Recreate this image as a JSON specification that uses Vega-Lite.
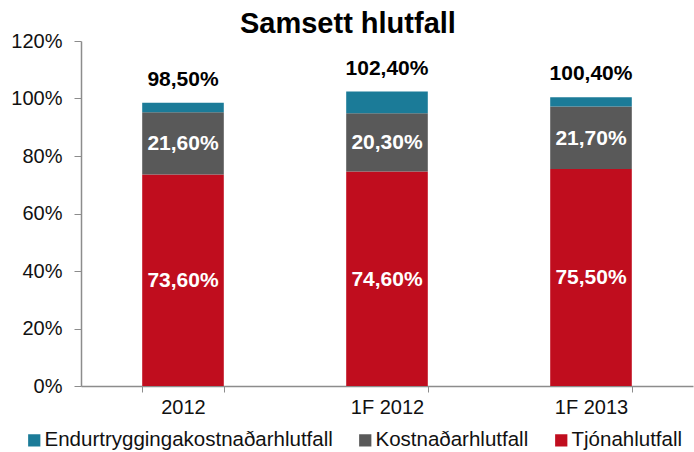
{
  "$schema": "https://vega.github.io/schema/vega-lite/v6.json",
  "width": 612,
  "height": 345,
  "autosize": {"type": "none"},
  "padding": {"left": 81, "top": 41, "right": 1, "bottom": 66},
  "config": {
    "locale": {"number": {"decimal": ",", "thousands": ".", "grouping": [3], "currency": ["", " kr."]}},
    "font": "Liberation Sans",
    "view": {"stroke": null},
    "axis": {"labelFont": "Liberation Sans", "labelFontSize": 20, "labelColor": "#111", "domainColor": "#8c8c8c", "tickColor": "#8c8c8c", "grid": false, "title": null}
  },
  "title": {"text": "Samsett hlutfall", "fontSize": 29, "fontWeight": "bold", "font": "Liberation Sans", "color": "#000", "anchor": "middle", "frame": "bounds", "offset": -8, "dx": -4},
  "data": {
    "values": [
      {"ar": "2012", "flokkur": "Tjónahlutfall", "rod": 1, "gildi": 0.736},
      {"ar": "2012", "flokkur": "Kostnaðarhlutfall", "rod": 2, "gildi": 0.216},
      {"ar": "2012", "flokkur": "Endurtryggingakostnaðarhlutfall", "rod": 3, "gildi": 0.033},
      {"ar": "1F 2012", "flokkur": "Tjónahlutfall", "rod": 1, "gildi": 0.746},
      {"ar": "1F 2012", "flokkur": "Kostnaðarhlutfall", "rod": 2, "gildi": 0.203},
      {"ar": "1F 2012", "flokkur": "Endurtryggingakostnaðarhlutfall", "rod": 3, "gildi": 0.075},
      {"ar": "1F 2013", "flokkur": "Tjónahlutfall", "rod": 1, "gildi": 0.755},
      {"ar": "1F 2013", "flokkur": "Kostnaðarhlutfall", "rod": 2, "gildi": 0.217},
      {"ar": "1F 2013", "flokkur": "Endurtryggingakostnaðarhlutfall", "rod": 3, "gildi": 0.032}
    ]
  },
  "transform": [
    {"stack": "gildi", "groupby": ["ar"], "sort": [{"field": "rod", "order": "ascending"}], "as": ["y0", "y1"]},
    {"calculate": "(datum.y0 + datum.y1) / 2", "as": "ymid"},
    {"joinaggregate": [{"op": "sum", "field": "gildi", "as": "samtals"}], "groupby": ["ar"]}
  ],
  "encoding": {
    "x": {
      "field": "ar", "type": "nominal", "sort": ["2012", "1F 2012", "1F 2013"],
      "scale": {"paddingInner": 0.6, "paddingOuter": 0.3},
      "axis": {"labelAngle": 0, "tickBand": "extent", "tickSize": 6, "labelPadding": 5, "domainWidth": 1.5}
    }
  },
  "layer": [
    {
      "mark": {"type": "bar"},
      "encoding": {
        "y": {"field": "y0", "type": "quantitative", "scale": {"domain": [0, 1.2]},
          "axis": {"values": [0, 0.2, 0.4, 0.6, 0.8, 1.0, 1.2], "format": ".0%", "tickSize": 7, "labelPadding": 12, "domainWidth": 1.5}},
        "y2": {"field": "y1"},
        "color": {
          "field": "flokkur", "type": "nominal",
          "scale": {"domain": ["Endurtryggingakostnaðarhlutfall", "Kostnaðarhlutfall", "Tjónahlutfall"], "range": ["#1b7b98", "#595959", "#c00d1e"]},
          "legend": {"orient": "none", "legendX": -57, "legendY": 389, "direction": "horizontal", "title": null, "symbolType": "square", "symbolSize": 150, "symbolStrokeWidth": 0, "symbolOpacity": 1, "labelFontSize": 20.5, "labelFont": "Liberation Sans", "labelColor": "#111", "columnPadding": 22, "labelOffset": 0, "labelLimit": 400}
        }
      }
    },
    {
      "transform": [{"filter": "datum.rod < 3"}],
      "mark": {"type": "text", "color": "white", "fontSize": 21, "fontWeight": "bold", "baseline": "middle", "dy": 1},
      "encoding": {
        "y": {"field": "ymid", "type": "quantitative"},
        "text": {"field": "gildi", "type": "quantitative", "format": ".2%"}
      }
    },
    {
      "transform": [{"filter": "datum.rod == 3"}],
      "mark": {"type": "text", "color": "black", "fontSize": 21, "fontWeight": "bold", "baseline": "alphabetic", "dy": -17},
      "encoding": {
        "y": {"field": "samtals", "type": "quantitative"},
        "text": {"field": "samtals", "type": "quantitative", "format": ".2%"}
      }
    }
  ]
}
